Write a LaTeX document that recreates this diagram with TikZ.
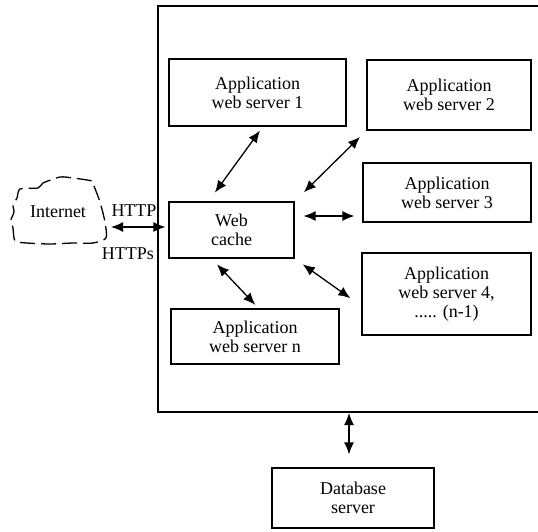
\documentclass[tikz,border=0pt]{standalone}
\usepackage{fontspec}
\setmainfont{Liberation Serif}
\usetikzlibrary{arrows.meta,calc}
\begin{document}
\begin{tikzpicture}[x=1pt,y=-1pt,
  box/.style={draw,line width=1.2pt,inner sep=0pt,align=center,font=\fontsize{18}{19}\selectfont},
  lbl/.style={inner sep=0pt,font=\fontsize{18}{19}\selectfont},
  dbl/.style={{Latex[length=12pt,width=10pt]}-{Latex[length=12pt,width=10pt]},line width=1.3pt}]
\useasboundingbox (0,0) rectangle (538,531);
% outer frame (open on the right, cut by the picture edge)
\draw[line width=1.6pt] (538,6) -- (158,6) -- (158,412) -- (538,412);
\coordinate (bigbot) at (349,412);
% nodes
\node[box,minimum width=177pt,minimum height=67pt] (as1) at (257.5,92.5) {Application\\web server 1};
\node[box,minimum width=164pt,minimum height=70pt] (as2) at (449,95) {Application\\web server 2};
\node[box,minimum width=168pt,minimum height=59pt] (as3) at (447,192.5) {Application\\web server 3};
\node[box,minimum width=169pt,minimum height=82pt] (as4) at (446.5,294) {Application\\web server 4,\\..... (n-1)};
\node[box,minimum width=168pt,minimum height=55pt] (asn) at (255,336.5) {Application\\web server n};
\node[box,minimum width=125pt,minimum height=56pt] (cache) at (231.5,230) {Web\\cache};
\node[box,minimum width=162pt,minimum height=60pt] (db) at (353,498) {Database\\server};
% cloud
\draw[line width=1.3pt,dash pattern=on 15pt off 6pt] plot[smooth cycle,tension=0.4] coordinates
  {(20,189) (38,188) (43,183) (60,177) (73,178) (92,181) (94,186) (100,202) (105,222) (106,238) (93,243) (73,243) (50,244) (27,243) (15,241) (13,228) (11,220) (14,212) (13,205) (17,198)};
\node[lbl] (inet) at (58,212) {Internet};
\coordinate (cloudE) at (106,227);
\node[lbl] (http) at (134,211) {HTTP};
\node[lbl] (https) at (128,254) {HTTPs};
% connectors
\draw[dbl,shorten <=5pt,shorten >=3pt] (cloudE) -- ([yshift=3pt]cache.west);
\draw[dbl,shorten <=11pt,shorten >=5pt] ([xshift=-23pt]cache.north) -- ([xshift=5.4pt]as1.south);
\draw[dbl,shorten <=13pt,shorten >=9pt] (cache.north east) -- (as2.south west);
\draw[dbl,shorten <=9pt,shorten >=8pt] ([yshift=14pt]cache.east) -- ([yshift=14pt]cache.east -| as3.west);
\draw[dbl,shorten <=10pt,shorten >=13.5pt] (cache.south east) -- ([yshift=-12pt]as4.west);
\draw[dbl,shorten <=8pt,shorten >=5pt] ([xshift=-20pt]cache.south) -- ([xshift=3.7pt]asn.north);
\draw[dbl,shorten <=13pt,shorten >=1pt] ([xshift=-4pt]db.north) -- (bigbot);
\end{tikzpicture}
\end{document}
